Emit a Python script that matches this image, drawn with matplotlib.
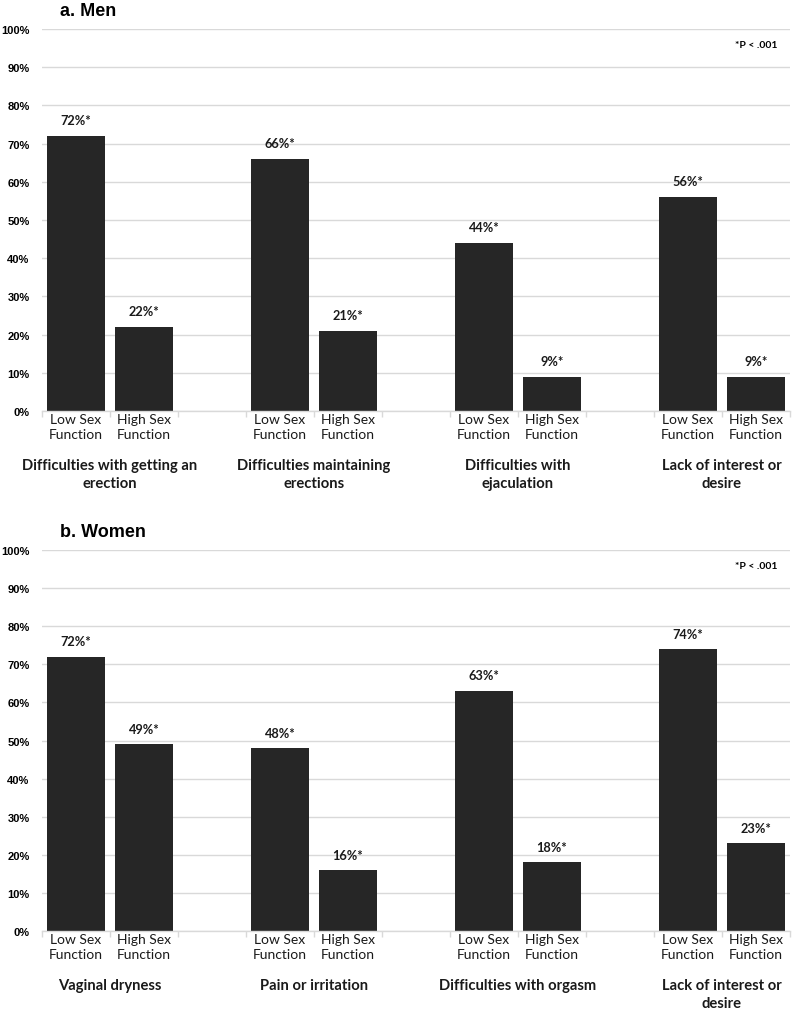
import matplotlib
matplotlib.use("Agg")
import matplotlib.pyplot as plt
from matplotlib.transforms import blended_transform_factory

bar_labels = ["Low Sex\nFunction", "High Sex\nFunction"]

men_groups = ["Difficulties with getting an\nerection", "Difficulties maintaining\nerections",
              "Difficulties with\nejaculation", "Lack of interest or\ndesire"]
men_low = [72, 66, 44, 56]
men_high = [22, 21, 9, 9]

women_groups = ["Vaginal dryness", "Pain or irritation", "Difficulties with orgasm",
                "Lack of interest or\ndesire"]
women_low = [72, 48, 63, 74]
women_high = [49, 16, 18, 23]

yticks = [0, 10, 20, 30, 40, 50, 60, 70, 80, 90, 100]

BAR = "#262626"
GRID = "#d9d9d9"
CAL = ["Lato", "DejaVu Sans"]
ARI = ["Liberation Sans", "DejaVu Sans"]

fig = plt.figure(figsize=(8, 10.12), dpi=100)

def panel(rect, title, groups, low, high):
    ax = fig.add_axes(rect)
    n = len(groups)
    xs_low = [3 * i for i in range(n)]
    xs_high = [3 * i + 1 for i in range(n)]
    ax.bar(xs_low, low, width=0.84, color=BAR, zorder=3)
    ax.bar(xs_high, high, width=0.84, color=BAR, zorder=3)
    for x, v in list(zip(xs_low, low)) + list(zip(xs_high, high)):
        ax.text(x, v + 2.5, f"{v}%*", ha="center", va="bottom", fontsize=9.2,
                fontweight="bold", family=CAL, color="#1a1a1a")
    ax.set_xlim(-0.5, 3 * n - 1.5)
    ax.set_ylim(0, 100)
    ax.set_yticks(yticks)
    ax.set_yticklabels([f"{t}%" for t in yticks], fontsize=8, fontweight="bold", family=ARI)
    ax.yaxis.grid(True, color=GRID, linewidth=1.0, zorder=0)
    ax.tick_params(axis="y", length=0, pad=9)
    centers = sorted(xs_low + xs_high)
    ax.set_xticks(centers)
    ax.set_xticklabels([bar_labels[0] if c % 3 == 0 else bar_labels[1] for c in centers],
                       fontsize=10, family=CAL, linespacing=1.25, color="#1a1a1a")
    ax.tick_params(axis="x", length=0, pad=1.5)
    ax.set_xticks([b - 0.5 for b in range(3 * n)], minor=True)
    ax.tick_params(axis="x", which="minor", length=4, color=GRID, width=1)
    for s in ["top", "right", "left"]:
        ax.spines[s].set_visible(False)
    ax.spines["bottom"].set_color(GRID)
    ax.spines["bottom"].set_linewidth(1.0)
    ax.spines["bottom"].set_zorder(4)
    tr = blended_transform_factory(ax.transData, ax.transAxes)
    for i, g in enumerate(groups):
        ax.text(3 * i + 0.5, -0.124, g, transform=tr, ha="center", va="top", fontsize=10.6,
                fontweight="bold", family=CAL, linespacing=1.35, color="#1a1a1a")
    ax.text(3 * n - 2.0, 96, "*P < .001", ha="center", va="center", fontsize=7.5,
            fontweight="bold", family=CAL)
    fig.text(0.075, rect[1] + rect[3] + 0.010, title, ha="left", va="bottom", fontsize=13,
             fontweight="bold", family=ARI)
    return ax

panel([0.0525, 0.5929, 0.935, 0.3775], "a. Men", men_groups, men_low, men_high)
panel([0.0525, 0.0790, 0.935, 0.3765], "b. Women", women_groups, women_low, women_high)

fig.savefig("out.png", dpi=100)
